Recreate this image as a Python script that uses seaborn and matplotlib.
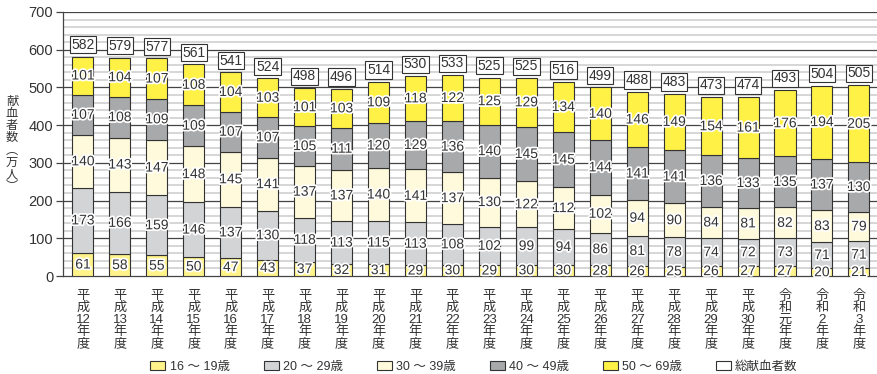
import re
import matplotlib
matplotlib.use("Agg")
import matplotlib.pyplot as plt
import matplotlib.patheffects as pe
from matplotlib.patches import Patch
import pandas as pd
import seaborn as sns

# Fiscal years (平成12年度 – 令和3年度)
years = ["平成12年度", "平成13年度", "平成14年度", "平成15年度", "平成16年度",
         "平成17年度", "平成18年度", "平成19年度", "平成20年度", "平成21年度",
         "平成22年度", "平成23年度", "平成24年度", "平成25年度", "平成26年度",
         "平成27年度", "平成28年度", "平成29年度", "平成30年度", "令和元年度",
         "令和2年度", "令和3年度"]

# Donors by age group (10,000 persons)
age_16_19 = [61, 58, 55, 50, 47, 43, 37, 32, 31, 29, 30, 29, 30, 30, 28, 26, 25, 26, 27, 27, 20, 21]
age_20_29 = [173, 166, 159, 146, 137, 130, 118, 113, 115, 113, 108, 102, 99, 94, 86, 81, 78, 74, 72, 73, 71, 71]
age_30_39 = [140, 143, 147, 148, 145, 141, 137, 137, 140, 141, 137, 130, 122, 112, 102, 94, 90, 84, 81, 82, 83, 79]
age_40_49 = [107, 108, 109, 109, 107, 107, 105, 111, 120, 129, 136, 140, 145, 145, 144, 141, 141, 136, 133, 135, 137, 130]
age_50_69 = [101, 104, 107, 108, 104, 103, 101, 103, 109, 118, 122, 125, 129, 134, 140, 146, 149, 154, 161, 176, 194, 205]
totals = [582, 579, 577, 561, 541, 524, 498, 496, 514, 530, 533, 525, 525, 516, 499, 488, 483, 473, 474, 493, 504, 505]

series_names = ["16 ～ 19歳", "20 ～ 29歳", "30 ～ 39歳", "40 ～ 49歳", "50 ～ 69歳"]
total_name = "総献血者数"
y_ticks = [0, 100, 200, 300, 400, 500, 600, 700]

series_values = [age_16_19, age_20_29, age_30_39, age_40_49, age_50_69]
colors = ["#fff38a", "#d3d4d6", "#fffadb", "#a8a9ab", "#fff145"]

sns.set_theme(style="white")
plt.rcParams["font.family"] = ["Liberation Sans", "Noto Sans CJK JP"]

# Vertical tick labels: one character per line, digits kept together
def vertical(s):
    return "\n".join(re.findall(r"\d+|.", s))

labels = [vertical(y) for y in years]

fig = plt.figure(figsize=(8.78, 3.74), dpi=100)
ax = fig.add_axes([63 / 878, 1 - 276 / 374, (877 - 63) / 878, (276 - 12) / 374])

edge = "#333333"
text_col = "#333333"
stroke = [pe.withStroke(linewidth=2.5, foreground="white")]

bottom = [0] * len(years)
for name, vals, col in zip(series_names, series_values, colors):
    df = pd.DataFrame({"year": labels, "value": vals})
    sns.barplot(data=df, x="year", y="value", order=labels, color=col,
                bottom=bottom, width=0.57, edgecolor=edge, linewidth=0.8,
                saturation=1, ax=ax, zorder=3)
    for i, v in enumerate(vals):
        ax.text(i, bottom[i] + v / 2, str(v), ha="center", va="center",
                fontsize=10, color=text_col, path_effects=stroke, zorder=5)
    bottom = [b + v for b, v in zip(bottom, vals)]

# Total labels in boxes above the stacks
for i, t in enumerate(totals):
    ax.annotate(str(t), xy=(i, bottom[i]), xytext=(0, 8.5),
                textcoords="offset points", ha="center", va="center",
                fontsize=10, color=text_col, zorder=6,
                bbox=dict(boxstyle="square,pad=0.12", fc="white", ec=edge, lw=0.8))

# Grid: light minor lines every 20, darker lines every 100
for y in range(20, 700, 20):
    if y % 100:
        ax.axhline(y, color="#cfcfcf", lw=1.2, zorder=1)
for y in y_ticks[1:]:
    ax.axhline(y, color="#444444", lw=0.9, zorder=2)

ax.set_ylim(0, 700)
ax.set_xlim(-0.54, len(years) - 0.51)
ax.set_yticks(y_ticks)
ax.set_yticklabels([str(v) for v in y_ticks], fontsize=10.5, color="#333333")
ax.tick_params(axis="y", left=True, length=5, width=0.9, color="#444444", pad=2)
ax.tick_params(axis="x", bottom=False, pad=4)
ax.set_xticks(range(len(years)))
ax.set_xticklabels(labels, fontsize=9.5, color="#333333", linespacing=0.98, va="top")
ax.set_xlabel("")
ax.set_ylabel("")
for s in ["top", "right"]:
    ax.spines[s].set_visible(False)
for s in ["left", "bottom"]:
    ax.spines[s].set_color("#444444")
    ax.spines[s].set_linewidth(0.9)

fig.text(12 / 878, 1 - 144 / 374, "献\n血\n者\n数\n︵\n万\n人\n︶", ha="center",
         va="center", fontsize=8.8, color="#333333", linespacing=0.92,
         family=["Noto Sans CJK JP"])

handles = [Patch(facecolor=c, edgecolor=edge, lw=0.8) for c in colors]
handles.append(Patch(facecolor="white", edgecolor=edge, lw=0.8))
fig.legend(handles, series_names + [total_name], loc="center",
           bbox_to_anchor=(474 / 878, 1 - 367 / 374), ncol=6, frameon=False,
           fontsize=9, handlelength=1.2, handleheight=0.7, handletextpad=0.35,
           columnspacing=2.7, labelcolor="#333333")

fig.savefig("out.png", dpi=100)
